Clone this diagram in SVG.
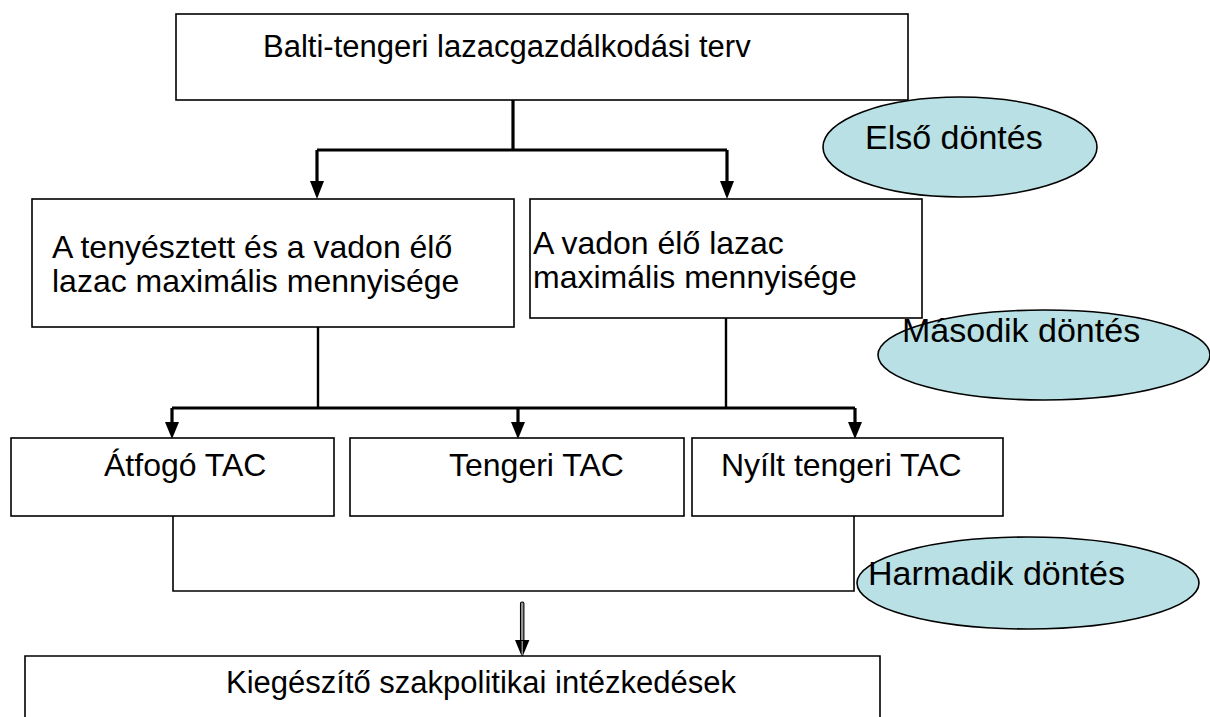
<svg xmlns="http://www.w3.org/2000/svg" width="1210" height="717" viewBox="0 0 1210 717">
<style>
.box{fill:#fff;stroke:#000;stroke-width:1.6}
.ell{fill:#b9e0e4;stroke:#000;stroke-width:1.6}
.t{font-family:"Liberation Sans",Arial,sans-serif;font-size:32px;fill:#000}
.tl{font-family:"Liberation Sans",Arial,sans-serif;font-size:31px;fill:#000}
.te{font-family:"Liberation Sans",Arial,sans-serif;font-size:34px;fill:#000}
.thick{fill:none;stroke:#000;stroke-width:3.2}
.mid{fill:none;stroke:#000;stroke-width:2.4}
.thin{fill:none;stroke:#000;stroke-width:1.6}
.ah{fill:#000}
</style>
<rect width="1210" height="717" fill="#fff"/>
<g id="connectors">
<path class="thick" d="M513,100 V150 M317,150 H727 M317,150 V182 M727,150 V182"/>
<path class="ah" d="M310,181 H324 L317,199 Z"/>
<path class="ah" d="M720,181 H734 L727,199 Z"/>
<path class="mid" d="M318,322 V408 M726,318 V408"/>
<path class="thick" stroke-width="4" d="M172,408 H855"/>
<path class="thick" d="M172,408 V424 M518,408 V424 M855,408 V424"/>
<path class="ah" d="M165,422 H179 L172,439 Z"/>
<path class="ah" d="M511,422 H525 L518,439 Z"/>
<path class="ah" d="M848,422 H862 L855,439 Z"/>
<path class="thin" d="M173,516 V591 H854 V516"/>
<g id="bottom-arrow">
<rect x="520.5" y="602" width="3.4" height="39" rx="1.5" fill="#999" stroke="#000" stroke-width="1.1"/>
<path d="M515,640 H529.4 L522.2,657.5 Z" fill="#000"/>
<path d="M522.2,641 V655" stroke="#aaa" stroke-width="1.2"/>
</g>
</g>
<g id="n-top">
<rect class="box" x="176" y="14" width="732" height="86"/>
<text class="tl" x="263" y="57">Balti-tengeri lazacgazdálkodási terv</text>
</g>
<g id="d1">
<ellipse class="ell" cx="960" cy="147" rx="137" ry="50"/>
<text class="te" x="865" y="149">Első döntés</text>
</g>
<g id="n-left">
<rect class="box" x="32" y="199" width="482" height="128"/>
<text class="t" x="52" y="258">A tenyésztett és a vadon élő</text>
<text class="t" x="52" y="292">lazac maximális mennyisége</text>
</g>
<g id="n-right">
<rect class="box" x="530" y="199" width="392" height="119"/>
<text class="t" x="533" y="254">A vadon élő lazac</text>
<text class="t" x="533" y="288">maximális mennyisége</text>
</g>
<g id="d2">
<ellipse class="ell" cx="1044" cy="355" rx="166" ry="45"/>
<text class="te" x="902" y="342">Második döntés</text>
</g>
<g id="n-atfogo">
<rect class="box" x="11" y="438" width="323" height="78"/>
<text class="t" x="104" y="476">Átfogó TAC</text>
</g>
<g id="n-tengeri">
<rect class="box" x="350" y="438" width="334" height="78"/>
<text class="t" x="449" y="476">Tengeri TAC</text>
</g>
<g id="n-nyilt">
<rect class="box" x="692" y="438" width="311" height="78"/>
<text class="t" x="721" y="476">Nyílt tengeri TAC</text>
</g>
<g id="d3">
<ellipse class="ell" cx="1028" cy="583" rx="171" ry="46"/>
<text class="te" x="868" y="585">Harmadik döntés</text>
</g>
<g id="n-bottom">
<path class="box" d="M25,718 V656 H880 V718"/>
<text class="tl" x="226" y="693">Kiegészítő szakpolitikai intézkedések</text>
</g>
</svg>
